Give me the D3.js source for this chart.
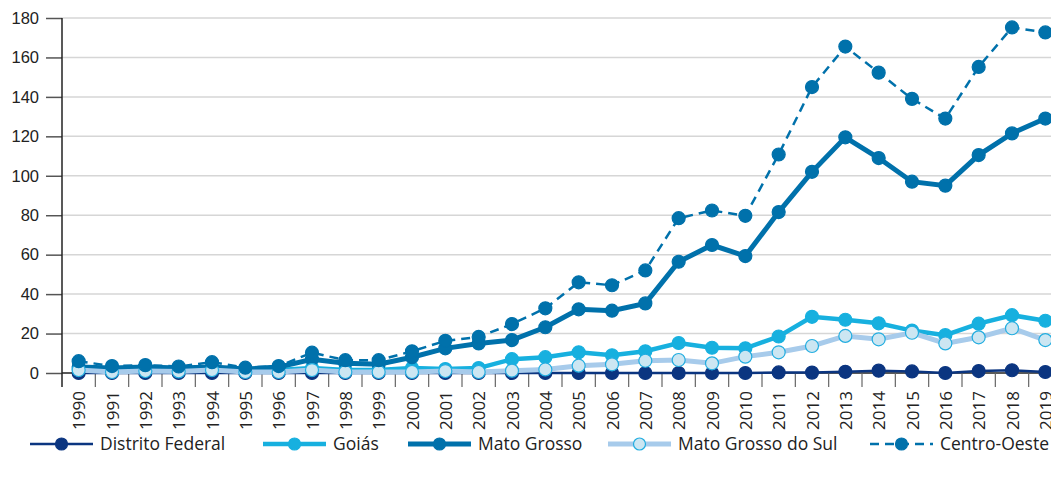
<!DOCTYPE html>
<html>
<head>
<meta charset="utf-8">
<script src="https://cdn.jsdelivr.net/npm/d3@7"></script>
<style>
  body { margin: 0; background: #fff; }
  svg { display: block; font-family: "Open Sans", sans-serif; }
</style>
</head>
<body>
<div id="chart"></div>
<script>
const years = d3.range(1990, 2020).map(String);
const yTicks = [0, 20, 40, 60, 80, 100, 120, 140, 160, 180];

const distritoFederal = [0, 0, 0, 0, 0, 0, 0, 0, 0, 0, 0, 0, 0, 0, 0, 0, 0, 0, 0, 0, 0, 0.3, 0.2, 0.6, 1.2, 0.8, 0, 1, 1.4, 0.5];
const goias = [2, 1.5, 2, 1.5, 2, 1.5, 1.5, 2.5, 1.5, 1.5, 2.5, 2, 2.5, 7, 8, 10.5, 9, 11, 15.2, 12.8, 12.5, 18.5, 28.5, 27, 25.2, 21.5, 19.2, 25, 29.3, 26.5];
const matoGrosso = [3, 2.5, 3, 2.5, 3, 2, 3, 7, 5, 4.5, 8, 12.5, 15, 16.7, 23.2, 32.3, 31.6, 35.3, 56.4, 64.9, 59.3, 81.6, 102, 119.5, 109, 97, 95, 110.5, 121.5, 129];
const matoGrossoSul = [1.5, 0.5, 1, 0.8, 1.5, 0.5, 0.5, 1.5, 0.5, 0.5, 0.5, 1, 0.5, 1.2, 1.8, 3.7, 4.4, 6.2, 6.6, 4.9, 8.3, 10.5, 13.7, 18.8, 17.1, 20.4, 15, 18.1, 22.7, 16.7];
const centroOeste = [6, 3.5, 4, 3.3, 5.5, 2.7, 3.5, 10.3, 6.5, 6.5, 11, 16.3, 18.3, 24.8, 32.8, 46, 44.5, 52, 78.5, 82.4, 79.7, 110.8, 145, 165.5, 152.3, 139, 129, 155.2, 175.2, 172.7];

const series = [
  { name: "Distrito Federal", values: distritoFederal, line: "#0b3580", width: 2.5, fill: "#0b3580", stroke: "#0b3580", r: 6.5, dash: null },
  { name: "Goiás", values: goias, line: "#17b0df", width: 4.5, fill: "#17b0df", stroke: "#17b0df", r: 6.5, dash: null },
  { name: "Mato Grosso", values: matoGrosso, line: "#0071ab", width: 5, fill: "#0071ab", stroke: "#0071ab", r: 6.5, dash: null },
  { name: "Mato Grosso do Sul", values: matoGrossoSul, line: "#a7cbeb", width: 5, fill: "#cce6f2", stroke: "#22ade0", r: 6.5, dash: null },
  { name: "Centro-Oeste", values: centroOeste, line: "#0071ab", width: 2.5, fill: "#0071ab", stroke: "#0071ab", r: 6.5, dash: "9,6" }
];

const W = 1051, H = 480;
const svg = d3.select("#chart").append("svg").attr("width", W).attr("height", H);

const x = d3.scaleBand().domain(years).range([62, 1062]).padding(0);
const y = d3.scaleLinear().domain([0, 180]).range([373, 18]);
const cx = d => x(d) + x.bandwidth() / 2;

// grid
svg.append("g").selectAll("line").data(yTicks.filter(t => t > 0)).join("line")
  .attr("x1", 62).attr("x2", W).attr("y1", d => y(d)).attr("y2", d => y(d))
  .attr("stroke", "#d6d6d6").attr("stroke-width", 1.5);

// y axis
const yAxis = svg.append("g").attr("transform", "translate(62,0)")
  .call(d3.axisLeft(y).tickValues(yTicks).tickSize(16).tickPadding(7));
yAxis.select(".domain").remove();
yAxis.selectAll(".tick line").attr("stroke", "#555").attr("stroke-width", 1.5);
yAxis.selectAll(".tick text").attr("font-size", 16.5).attr("fill", "#222");
svg.append("line").attr("x1", 62).attr("x2", 62).attr("y1", 18).attr("y2", 387)
  .attr("stroke", "#222").attr("stroke-width", 1.5);

// x axis
svg.append("line").attr("x1", 62).attr("x2", W).attr("y1", y(0)).attr("y2", y(0))
  .attr("stroke", "#222").attr("stroke-width", 1.5);
svg.append("g").selectAll("line").data(years.slice(1)).join("line")
  .attr("x1", d => x(d)).attr("x2", d => x(d)).attr("y1", y(0)).attr("y2", 387)
  .attr("stroke", "#666").attr("stroke-width", 1.2);
svg.append("g").selectAll("text").data(years).join("text")
  .attr("transform", d => `translate(${cx(d) + 6.5},391) rotate(-90)`)
  .attr("text-anchor", "end").attr("font-size", 17).attr("fill", "#222")
  .text(d => d);

// lines and markers
const line = d3.line().x((d, i) => cx(years[i])).y(d => y(d));
series.forEach(s => {
  svg.append("path").datum(s.values)
    .attr("d", line).attr("fill", "none")
    .attr("stroke", s.line).attr("stroke-width", s.width)
    .attr("stroke-dasharray", s.dash);
  svg.append("g").selectAll("circle").data(s.values).join("circle")
    .attr("cx", (d, i) => cx(years[i])).attr("cy", d => y(d)).attr("r", s.r)
    .attr("fill", s.fill).attr("stroke", s.stroke).attr("stroke-width", 1.2);
});

// legend
const legendX = [30, 263, 408, 608, 870];
const ly = 444;
series.forEach((s, i) => {
  const g = svg.append("g").attr("transform", `translate(${legendX[i]},${ly})`);
  g.append("line").attr("x1", 0).attr("x2", 63).attr("y1", 0).attr("y2", 0)
    .attr("stroke", s.line).attr("stroke-width", s.width).attr("stroke-dasharray", s.dash);
  g.append("circle").attr("cx", 31.5).attr("cy", 0).attr("r", 6)
    .attr("fill", s.fill).attr("stroke", s.stroke).attr("stroke-width", 1.2);
  g.append("text").attr("x", 70).attr("y", 0).attr("dy", "0.35em")
    .attr("font-size", 17.5).attr("fill", "#222").text(s.name);
});
</script>
</body>
</html>
